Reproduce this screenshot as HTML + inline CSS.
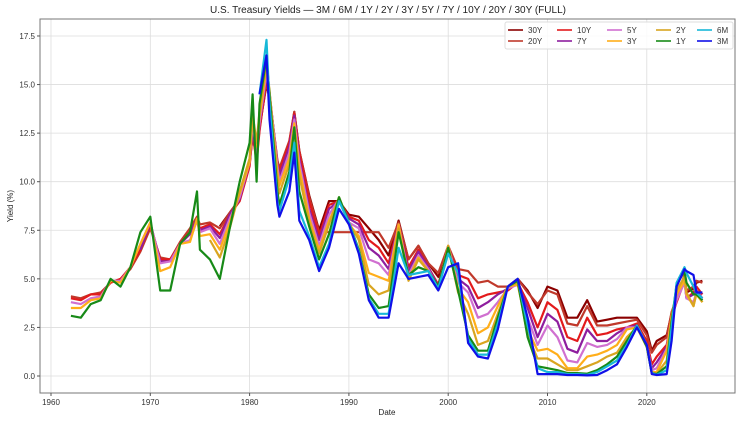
<!DOCTYPE html>
<html><head><meta charset="utf-8"><style>
html,body{margin:0;padding:0;background:#fff;}
svg{display:block;font-family:"Liberation Sans",sans-serif;}
</style></head><body>
<svg id="chart" width="743" height="424" viewBox="0 0 743 424" xmlns="http://www.w3.org/2000/svg">
<text x="388" y="13" font-size="10" text-anchor="middle" fill="#222">U.S. Treasury Yields — 3M / 6M / 1Y / 2Y / 3Y / 5Y / 7Y / 10Y / 20Y / 30Y (FULL)</text>
<g id="grid"></g>
<g id="series"></g>
<rect x="40" y="19" width="695" height="374" fill="none" stroke="#777" stroke-width="1"/>
<g id="axes"></g>
<text x="387" y="415" font-size="8" text-anchor="middle" fill="#222">Date</text>
<text x="13" y="206" font-size="8" text-anchor="middle" fill="#222" transform="rotate(-90 13 206)">Yield (%)</text>
<g id="legend"></g>
</svg>
<script>
const dates=[1962,1963,1964,1965,1966,1967,1968,1969,1970,1971,1972,1973,1974,1974.7,1975,1976,1977,1978,1979,1980,1980.3,1980.7,1981,1981.7,1982,1982.8,1983,1984,1984.5,1985,1986,1987,1988,1989,1990,1991,1992,1993,1994,1995,1996,1997,1998,1999,2000,2001,2002,2003,2004,2005,2006,2007,2008,2009,2010,2011,2012,2013,2014,2015,2016,2017,2018,2019,2020,2020.5,2021,2022,2022.5,2023,2023.8,2024,2024.7,2025,2025.6];
const N=null;
const y30=[N,N,N,N,N,N,N,N,N,N,N,N,N,N,N,N,7.7,8.4,9.1,11.0,12.4,11.3,12.8,15.0,14.3,11.0,10.6,12.0,13.6,11.6,9.3,7.5,9.0,9.0,8.3,8.2,7.6,7.0,6.2,8.0,6.0,6.7,5.8,5.1,6.5,5.5,N,N,N,N,4.6,5.0,4.4,3.5,4.6,4.4,3.0,3.0,3.9,2.8,2.9,3.0,3.0,3.0,2.3,1.3,1.8,2.1,3.2,3.9,5.0,4.3,4.5,4.8,4.9];
const y20=[4.1,4.0,4.2,4.3,4.8,5.0,5.5,6.4,7.6,6.1,6.0,6.9,7.6,8.2,7.8,7.9,7.6,8.4,9.1,10.9,12.4,11.2,12.7,15.1,14.4,11.1,10.7,12.1,13.6,11.6,9.2,7.4,7.4,7.4,7.4,7.4,7.4,7.4,6.6,7.9,6.0,6.7,5.8,5.3,6.7,5.5,5.4,4.8,4.9,4.6,4.6,5.0,4.3,3.7,4.4,4.2,2.7,2.6,3.6,2.6,2.6,2.7,2.8,2.9,2.1,1.2,1.6,2.0,3.3,4.0,5.2,4.4,4.6,4.9,4.8];
const y10=[4.0,3.9,4.2,4.2,4.8,5.0,5.6,6.5,7.8,6.0,6.0,6.8,7.4,8.0,7.6,7.8,7.3,8.3,9.0,10.8,12.5,11.0,12.6,15.3,14.5,11.0,10.5,12.0,13.5,11.5,9.0,7.2,8.8,9.0,8.2,8.0,7.0,6.6,5.8,7.8,5.6,6.5,5.6,4.7,6.6,5.2,5.0,4.0,4.2,4.3,4.4,4.8,3.8,2.5,3.8,3.4,2.0,1.8,3.0,2.1,2.2,2.4,2.5,2.7,1.8,0.6,1.0,1.6,3.0,3.8,4.9,4.0,4.3,4.6,4.2];
const y7=[N,N,N,N,N,N,N,6.5,7.9,5.9,5.9,6.8,7.3,8.1,7.5,7.7,7.1,8.3,9.1,11.0,12.7,11.2,12.9,15.5,14.6,10.9,10.3,11.8,13.4,11.2,8.6,7.0,8.6,9.0,8.1,7.8,6.6,6.2,5.5,7.8,5.4,6.4,5.6,4.6,6.6,5.0,4.6,3.5,3.8,4.2,4.5,4.8,3.5,2.0,3.2,2.8,1.4,1.2,2.4,1.8,1.8,2.2,2.5,2.6,1.6,0.4,0.7,1.5,3.0,3.9,4.9,4.0,4.2,4.4,4.0];
const y5=[3.8,3.7,4.0,4.1,4.9,4.9,5.6,6.8,7.9,5.8,5.9,6.8,7.0,8.0,7.4,7.6,6.8,8.1,9.2,11.0,13.0,11.5,13.0,15.6,14.6,10.8,10.0,11.5,13.2,11.0,8.4,6.7,8.3,9.1,7.9,7.6,6.0,5.8,5.2,7.8,5.2,6.2,5.5,4.5,6.7,4.8,4.3,3.0,3.2,3.8,4.5,4.7,3.0,1.6,2.6,2.0,0.8,0.7,1.7,1.5,1.6,1.9,2.5,2.5,1.6,0.3,0.4,1.4,3.0,3.9,4.8,4.0,3.8,4.3,3.9];
const y3=[3.5,3.5,3.9,4.0,4.9,4.8,5.6,6.8,7.9,5.4,5.6,6.8,6.9,8.1,7.2,7.3,6.5,7.9,9.4,11.0,13.3,11.8,13.3,15.9,14.6,10.5,9.8,11.2,13.0,10.7,8.1,6.5,8.0,9.1,7.8,7.2,5.3,5.1,4.9,7.8,5.0,6.1,5.4,4.5,6.7,4.5,3.8,2.2,2.5,3.6,4.6,4.7,2.4,1.3,1.4,1.1,0.4,0.4,1.0,1.1,1.3,1.6,2.4,2.5,1.5,0.2,0.2,1.3,3.1,4.2,4.9,4.2,3.6,4.2,3.8];
const y2=[N,N,N,N,N,N,N,N,N,N,N,N,N,N,N,7.0,6.1,7.6,9.5,11.2,13.5,12.0,13.6,16.1,14.7,10.2,9.4,10.9,12.7,10.3,7.9,6.3,7.8,9.2,7.9,7.0,4.7,4.2,4.4,7.6,4.9,6.0,5.4,4.5,6.7,4.3,3.2,1.6,1.8,3.2,4.6,4.8,2.1,0.9,0.9,0.6,0.3,0.3,0.5,0.7,1.0,1.2,2.0,2.5,1.5,0.15,0.12,0.8,3.0,4.4,5.1,4.3,3.6,4.3,3.8];
const y1=[3.1,3.0,3.7,3.9,5.0,4.6,5.6,7.4,8.2,4.4,4.4,6.8,7.4,9.5,6.5,6.0,5.0,7.6,10.0,12.0,14.5,10.0,14.0,16.4,14.5,9.5,8.8,10.5,12.8,9.5,7.7,6.0,7.3,9.2,7.9,6.5,4.2,3.5,3.6,7.4,5.2,5.6,5.4,4.6,6.6,4.4,2.1,1.3,1.3,3.0,4.6,4.9,2.0,0.5,0.4,0.3,0.15,0.15,0.12,0.3,0.6,1.0,1.8,2.6,1.5,0.15,0.1,0.5,2.8,4.7,5.4,4.8,4.2,4.2,3.9];
const y6m=[N,N,N,N,N,N,N,N,N,N,N,N,N,N,N,N,N,N,N,N,N,N,14.5,17.3,14.0,9.0,8.5,10.2,12.0,8.5,7.2,5.6,6.8,9.0,7.9,6.4,4.0,3.2,3.2,6.6,5.2,5.3,5.4,4.5,6.3,5.3,1.9,1.1,1.1,2.7,4.6,5.0,2.6,0.4,0.2,0.2,0.1,0.1,0.06,0.2,0.5,0.8,1.6,2.6,1.6,0.15,0.06,0.3,2.5,4.8,5.6,5.3,4.6,4.3,4.0];
const y3m=[N,N,N,N,N,N,N,N,N,N,N,N,N,N,N,N,N,N,N,N,N,N,14.5,16.5,13.2,8.8,8.2,9.5,11.5,8.0,7.0,5.4,6.6,8.6,7.8,6.3,3.9,3.0,3.0,5.8,5.0,5.1,5.2,4.4,5.6,5.8,1.7,1.0,0.9,2.4,4.6,5.0,3.0,0.1,0.1,0.1,0.05,0.05,0.03,0.05,0.3,0.6,1.5,2.5,1.6,0.1,0.05,0.1,1.8,4.6,5.5,5.4,5.2,4.3,4.3];
const seriesNames=["30Y","20Y","10Y","7Y","5Y","3Y","2Y","1Y","6M","3M"];
const seriesValues=[y30,y20,y10,y7,y5,y3,y2,y1,y6m,y3m];
const seriesColors=["#8b0000","#c0392b","#e31a1c","#8e1e9e","#d070d0","#ffae1a","#d9a520","#178a17","#17b8d8","#1010e8"];
const xTicks=[1960,1970,1980,1990,2000,2010,2020];
const yTicks=[0,2.5,5,7.5,10,12.5,15,17.5];
const yTickLabels=["0.0","2.5","5.0","7.5","10.0","12.5","15.0","17.5"];

const NS="http://www.w3.org/2000/svg";
function X(v){return 51+(v-1960)*9.93;}
function Y(v){return 376-v*19.43;}
function mk(tag,attrs,parent){const e=document.createElementNS(NS,tag);for(const k in attrs)e.setAttribute(k,attrs[k]);parent.appendChild(e);return e;}
const grid=document.getElementById('grid'),axes=document.getElementById('axes');
xTicks.forEach((t,i)=>{
  const l=mk('line',{x1:X(t),x2:X(t),y1:19,y2:393,stroke:'#ddd','stroke-width':0.8},grid);
  
  
  const tk=mk('line',{x1:X(t),x2:X(t),y1:393,y2:396,stroke:'#555'},axes);
  
  
  const tx=mk('text',{x:X(t),y:405,'font-size':8,'text-anchor':'middle',fill:'#333'},axes);
  tx.textContent=t;
  
  
});
yTicks.forEach((t,i)=>{
  const l=mk('line',{x1:40,x2:735,y1:Y(t),y2:Y(t),stroke:'#ddd','stroke-width':0.8},grid);
  
  
  const tk=mk('line',{x1:37,x2:40,y1:Y(t),y2:Y(t),stroke:'#555'},axes);
  
  
  const tx=mk('text',{x:35,y:Y(t)+3,'font-size':8,'text-anchor':'end',fill:'#333'},axes);
  tx.textContent=yTickLabels[i];
  
  
});
const sg=document.getElementById('series');
seriesValues.forEach((vals,si)=>{
  let d='',pen=false;
  vals.forEach((v,i)=>{
    if(v===null||v===undefined){pen=false;return;}
    d+=(pen?'L':'M')+X(dates[i]).toFixed(1)+' '+Y(v).toFixed(1);pen=true;
  });
  const p=mk('path',{d:d,fill:'none',stroke:seriesColors[si],'stroke-width':2.2,'stroke-linejoin':'round'},sg);
  
  
});
const lg=document.getElementById('legend');
const box=mk('rect',{x:505,y:22,width:228,height:27,fill:'#fff','fill-opacity':0.85,stroke:'#ddd',rx:2},lg);


const colX=[508,557,607,656,697];
seriesNames.forEach((n,i)=>{
  const c=Math.floor(i/2),r=i%2;
  const yy=30+r*11;
  const g=mk('g',{},lg);
  
  
  mk('line',{x1:colX[c],x2:colX[c]+15,y1:yy,y2:yy,stroke:seriesColors[i],'stroke-width':1.6},g);
  const t=mk('text',{x:colX[c]+20,y:yy+3,'font-size':8,fill:'#333'},g);
  t.textContent=n;
});
</script>
</body></html>
